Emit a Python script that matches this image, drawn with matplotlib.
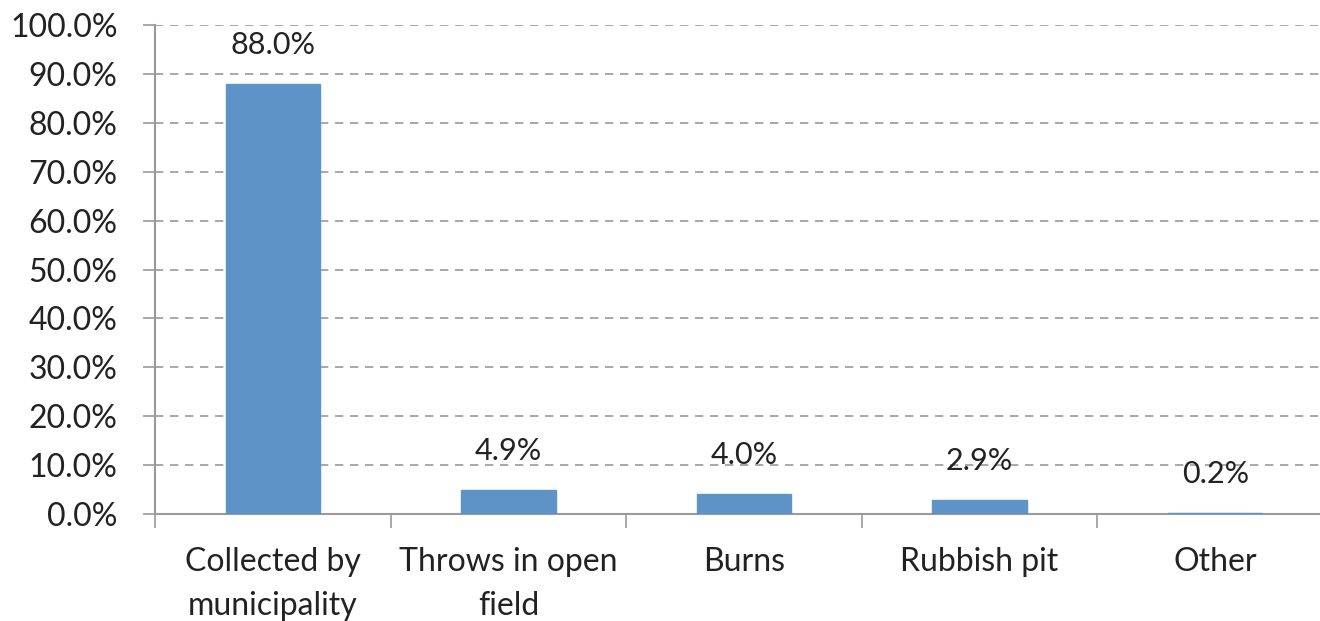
import matplotlib.pyplot as plt
from matplotlib.ticker import FixedLocator, PercentFormatter

# Data
categories = ['Collected by\nmunicipality', 'Throws in open\nfield', 'Burns', 'Rubbish pit', 'Other']
shares = [88.0, 4.9, 4.0, 2.9, 0.2]
y_ticks = [0, 10, 20, 30, 40, 50, 60, 70, 80, 90, 100]

plt.rcParams['font.family'] = ['Lato', 'DejaVu Sans']
GREY = '#9a9a9a'
BLUE = '#5e93c8'

fig = plt.figure(figsize=(13.2, 6.21), dpi=100)
# axes runs a little past the right edge, like the cropped original
ax = fig.add_axes([155 / 1320, 1 - 514 / 621, 1178 / 1320, (514 - 25) / 621])

x = list(range(len(categories)))
ax.bar(x, shares, width=0.4, color=BLUE, edgecolor=BLUE, linewidth=1, zorder=3)

for xi, v in zip(x, shares):
    ax.annotate(f'{v:.1f}%', (xi, v), xytext=(0, 18), textcoords='offset points',
                ha='center', va='bottom', fontsize=22, color='#222222')

ax.set_xlim(-0.5, len(categories) - 0.5)
ax.set_ylim(0, 100)
ax.set_yticks(y_ticks)
ax.yaxis.set_major_formatter(PercentFormatter(decimals=1))
ax.yaxis.grid(True, linestyle=(0, (5, 4)), color=GREY, linewidth=1.2, zorder=0)

ax.set_xticks(x)
ax.set_xticklabels(categories, fontsize=23, linespacing=1.55)
ax.xaxis.set_minor_locator(FixedLocator([i - 0.5 for i in range(len(categories) + 1)]))
ax.tick_params(axis='x', which='major', length=0, pad=24, colors='#222222')
ax.tick_params(axis='x', which='minor', length=10, width=1.2, color=GREY, direction='out')
ax.tick_params(axis='y', length=9, width=1.2, color=GREY, pad=18, labelsize=23, labelcolor='#222222')

for s in ['top', 'right']:
    ax.spines[s].set_visible(False)
for s in ['left', 'bottom']:
    ax.spines[s].set_color(GREY)
    ax.spines[s].set_linewidth(1.5)

fig.savefig('out.png', dpi=100)
